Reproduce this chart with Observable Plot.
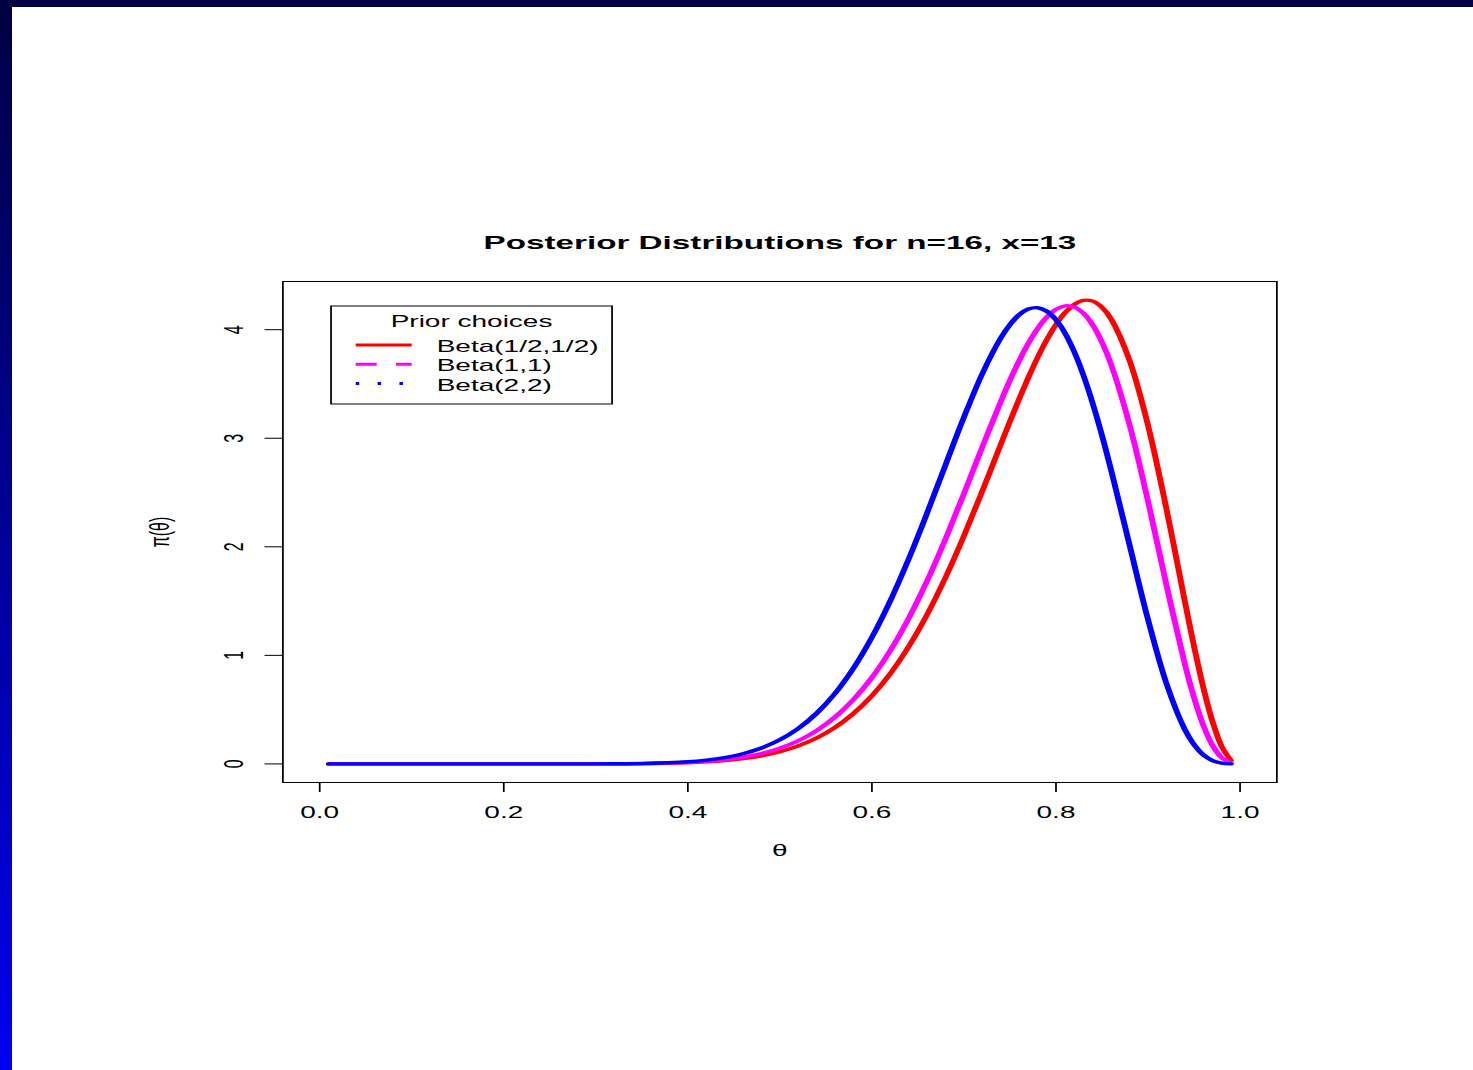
<!DOCTYPE html>
<html>
<head>
<meta charset="utf-8">
<script src="https://cdn.jsdelivr.net/npm/d3@7"></script>
<script src="https://cdn.jsdelivr.net/npm/@observablehq/plot@0.6"></script>
<style>
  html, body { margin: 0; padding: 0; }
  body {
    width: 1473px; height: 1070px; overflow: hidden; position: relative;
    background: linear-gradient(to bottom, #000042 0%, #0000f0 100%);
  }
  #panel {
    position: absolute; left: 12px; top: 7px; width: 1461px; height: 1063px;
    background: #ffffff; overflow: hidden;
  }
  #chart { position: absolute; left: 0; top: 0; width: 1461px; height: 1063px; }
  #chart svg { display: block; transform-origin: 0 0; max-width: none !important; }
</style>
</head>
<body>
<div id="panel"><div id="chart"></div></div>
<script>
// Grid of theta values at which the posterior densities are tabulated
const theta = [0.01, 0.05, 0.10, 0.15, 0.20, 0.25, 0.30, 0.35, 0.40, 0.42, 0.44, 0.46, 0.48,
  0.50, 0.52, 0.54, 0.56, 0.58, 0.60, 0.62, 0.64, 0.66, 0.68, 0.70, 0.72, 0.74,
  0.75, 0.76, 0.77, 0.78, 0.79, 0.80, 0.81, 0.82, 0.83, 0.84, 0.85, 0.86,
  0.88, 0.90, 0.92, 0.94, 0.95, 0.96, 0.97, 0.98, 0.99];

// Posterior density under each prior (n = 16 trials, x = 13 successes)
const postBetaHalf = [0, 0, 0, 0, 0, 0.0001, 0.0004, 0.0025, 0.0109, 0.0184, 0.0302, 0.0480, 0.0744,
  0.1123, 0.1656, 0.2386, 0.3364, 0.4644, 0.6280, 0.8322, 1.0812, 1.3768, 1.7185, 2.1013, 2.5146, 2.9425,
  3.1553, 3.3618, 3.5594, 3.7423, 3.9066, 4.0470, 4.1577, 4.2341, 4.2707, 4.2630, 4.2059, 4.0971,
  3.7146, 3.1184, 2.3495, 1.4975, 1.0837, 0.7070, 0.3921, 0.1618, 0.0325];
const postBetaOne = [0, 0, 0, 0, 0, 0.0001, 0.0005, 0.0031, 0.0138, 0.0235, 0.0387, 0.0619, 0.0961,
  0.1452, 0.2140, 0.3076, 0.4319, 0.5929, 0.7957, 1.0449, 1.3424, 1.6870, 2.0737, 2.4906, 2.9205, 3.3384,
  3.5340, 3.7138, 3.8746, 4.0099, 4.1158, 4.1872, 4.2190, 4.2077, 4.1495, 4.0426, 3.8846, 3.6772,
  3.1223, 2.4198, 1.6488, 0.9199, 0.6109, 0.3584, 0.1730, 0.0586, 0.0084];
const postBetaTwo = [0, 0, 0, 0, 0, 0.0001, 0.0007, 0.0043, 0.0202, 0.0350, 0.0583, 0.0939, 0.1465,
  0.2218, 0.3262, 0.4667, 0.6500, 0.8820, 1.1663, 1.5034, 1.8888, 2.3120, 2.7556, 3.1942, 3.5957, 3.9229,
  4.0468, 4.1372, 4.1906, 4.2025, 4.1700, 4.0916, 3.9654, 3.7929, 3.5756, 3.3182, 3.0248, 2.7039,
  2.0137, 1.3301, 0.7411, 0.3168, 0.1772, 0.0840, 0.0307, 0.0070, 0.0005];

const priorLabels = ["Beta(1/2,1/2)", "Beta(1,1)", "Beta(2,2)"];
const priorColors = ["#ff0000", "#ff00ff", "#0000ff"];
const legendDash = [null, "12,11", "2,10.5"];
const legendTitle = "Prior choices";

const xTicks = [0, 0.2, 0.4, 0.6, 0.8, 1.0];
const yTicks = [0, 1, 2, 3, 4];
const titleText = "Posterior Distributions for n=16, x=13";
const xLabel = "θ";
const yLabel = "π(θ)";

const series = [postBetaHalf, postBetaOne, postBetaTwo];

// The figure is laid out in a narrow coordinate system and widened horizontally
const SX = 1.75;
const W = 1461 / SX;
const H = 1063;
const mLeft = 154.3, mRight = W - 722.3, mTop = 274, mBottom = 288;

const chart = Plot.plot({
  width: W,
  height: H,
  marginLeft: mLeft,
  marginRight: mRight,
  marginTop: mTop,
  marginBottom: mBottom,
  x: {domain: [-0.04, 1.04]},
  y: {domain: [-0.171, 4.444]},
  style: {
    fontFamily: "'Liberation Sans', Arial, Helvetica, sans-serif",
    fontSize: "16px",
    color: "#000",
    background: "transparent",
    overflow: "visible"
  },
  marks: [
    Plot.axisX(xTicks, {tickSize: 10, tickPadding: 14, tickFormat: d3.format(".1f"), label: null}),
    Plot.axisY(yTicks, {tickSize: 10, tickFormat: () => "", label: null}),
    Plot.text(yTicks, {y: d => d, text: d => String(d), frameAnchor: "left", dx: -28,
      rotate: -90, lineAnchor: "middle", textAnchor: "middle"}),
    Plot.text([yLabel], {text: d => d, frameAnchor: "left", dx: -70, rotate: -90,
      lineAnchor: "middle", textAnchor: "middle"}),
    Plot.text([xLabel], {text: d => d, frameAnchor: "bottom", dy: 68, lineAnchor: "middle"}),
    Plot.text([titleText], {text: d => d, frameAnchor: "top", dy: -32, lineAnchor: "bottom",
      fontWeight: "bold", fontSize: 19}),
    ...series.map((vals, i) => Plot.line(vals, {
      x: theta, y: vals, stroke: priorColors[i], strokeWidth: 3.4,
      curve: "catmull-rom", strokeLinejoin: "round", strokeLinecap: "round"
    })),
    Plot.frame({stroke: "#000", strokeWidth: 1})
  ]
});

// Legend box in the upper-left corner of the plotting region
const svg = d3.select(chart);
const lg = svg.append("g")
  .attr("font-family", "'Liberation Sans', Arial, Helvetica, sans-serif")
  .attr("font-size", 16)
  .attr("text-anchor", "start");
const lx = mLeft + 28, ly = mTop + 25, lw = 160.6, lh = 98;
lg.append("rect").attr("x", lx).attr("y", ly).attr("width", lw).attr("height", lh)
  .attr("fill", "#fff").attr("stroke", "#000").attr("stroke-width", 1);
lg.append("text").attr("x", lx + lw / 2).attr("y", ly + 20.7)
  .attr("text-anchor", "middle").attr("fill", "#000").text(legendTitle);
priorLabels.forEach((label, i) => {
  const rowY = ly + 39 + i * 19.2;
  const line = lg.append("line")
    .attr("x1", lx + 14.1).attr("x2", lx + 46.1)
    .attr("y1", rowY).attr("y2", rowY)
    .attr("stroke", priorColors[i]).attr("stroke-width", 3);
  if (legendDash[i]) line.attr("stroke-dasharray", legendDash[i]);
  lg.append("text").attr("x", lx + 60.4).attr("y", rowY + 7.3)
    .attr("text-anchor", "start").attr("fill", "#000").text(label);
});

chart.style.transformOrigin = "0 0";
chart.style.transform = `scaleX(${SX})`;
document.getElementById("chart").appendChild(chart);
</script>
</body>
</html>
